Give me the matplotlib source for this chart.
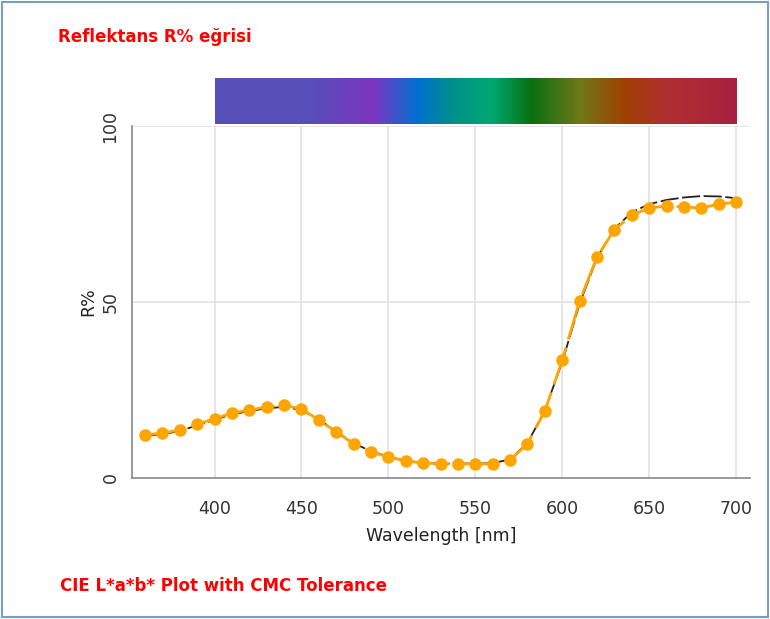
import numpy as np
import matplotlib.pyplot as plt
from matplotlib.colors import LinearSegmentedColormap
from matplotlib.patches import Rectangle

# ── Data ─────────────────────────────────────────────────────
wavelengths = list(range(360, 701, 10))
sample_r = [12.2, 12.8, 13.6, 15.3, 16.8, 18.5, 19.3, 20.2, 20.7, 19.6,
            16.5, 13.1, 9.7, 7.4, 6.0, 4.8, 4.3, 4.0, 4.0, 4.0,
            4.0, 5.1, 9.7, 19.0, 33.5, 50.3, 62.8, 70.5, 74.7, 76.7,
            77.3, 77.0, 76.7, 77.8, 78.4]
standard_r = [11.9, 12.5, 13.3, 15.0, 16.5, 18.1, 19.0, 19.8, 20.2, 19.3,
              16.6, 13.2, 9.9, 7.6, 6.1, 4.9, 4.3, 4.1, 4.1, 4.1,
              4.2, 5.3, 9.9, 19.2, 33.0, 49.5, 62.5, 70.8, 75.5, 77.8,
              79.0, 79.7, 80.1, 80.0, 79.5]

x_ticks = [400, 450, 500, 550, 600, 650, 700]
y_ticks = [0, 50, 100]

# visible spectrum strip (position in nm, colour)
spectrum_nm = [400, 454, 491, 516, 537, 559, 582, 610, 636, 658, 700]
spectrum_col = ["#574fb8", "#574fb8", "#7d35c0", "#0070d0", "#00908a", "#00a870",
                "#087010", "#707818", "#a04000", "#b03030", "#a82040"]

# ── Figure ───────────────────────────────────────────────────
fig = plt.figure(figsize=(7.7, 6.19), dpi=100)
ax = fig.add_axes([0.1714, 0.2278, 0.8026, 0.5686])

for xv in x_ticks:
    ax.axvline(xv, color="#e2e2e2", lw=1.2, zorder=0)
for yv in [50, 100]:
    ax.axhline(yv, color="#e2e2e2", lw=1.2, zorder=0)

ax.plot(wavelengths, standard_r, color="#222222", lw=1.3,
        dashes=(10, 2), zorder=2)
ax.plot(wavelengths, sample_r, color="#ffa500", lw=2, marker="o",
        markersize=8, dashes=(14, 3), zorder=3)

# spectrum bar above the plot
pos = [(v - spectrum_nm[0]) / (spectrum_nm[-1] - spectrum_nm[0]) for v in spectrum_nm]
cmap = LinearSegmentedColormap.from_list("spec", list(zip(pos, spectrum_col)))
grad = np.linspace(0, 1, 512).reshape(1, -1)
ax.imshow(grad, cmap=cmap, aspect="auto", extent=(400, 700, 100.6, 113.6),
          clip_on=False, zorder=1)
ax.set_xlim(352.5, 708)
ax.set_ylim(0, 100)

for s in ["top", "right"]:
    ax.spines[s].set_visible(False)
for s in ["left", "bottom"]:
    ax.spines[s].set_color("#888888")
    ax.spines[s].set_linewidth(1.2)

ax.set_xticks(x_ticks)
ax.set_xticklabels([str(v) for v in x_ticks], fontsize=12.5, color="#333333")
ax.set_yticks(y_ticks)
ax.set_yticklabels([str(v) for v in y_ticks], fontsize=12.5, color="#333333",
                   rotation=90, va="center")
ax.tick_params(axis="x", length=0, pad=16)
ax.tick_params(axis="y", length=0, pad=9)
ax.set_xlabel("Wavelength [nm]", fontsize=12.5, color="#222222", labelpad=6)
ax.set_ylabel("R%", fontsize=12.5, color="#222222", labelpad=3)

narrow = ["Liberation Sans Narrow", "DejaVu Sans"]
fig.text(58 / 770, 1 - 37 / 619, "Reflektans R% eğrisi", color="#ff0000",
         fontsize=12, fontweight="bold", family=narrow, va="center")
fig.text(60 / 770, 1 - 586 / 619, "CIE L*a*b* Plot with CMC Tolerance",
         color="#ff0000", fontsize=12, fontweight="bold", family=narrow, va="center")

fig.patches.append(Rectangle((0.003, 0.003), 0.994, 0.994, transform=fig.transFigure,
                             fill=False, edgecolor="#7a9cc6", lw=1.5))

fig.savefig("out.png", dpi=100)
